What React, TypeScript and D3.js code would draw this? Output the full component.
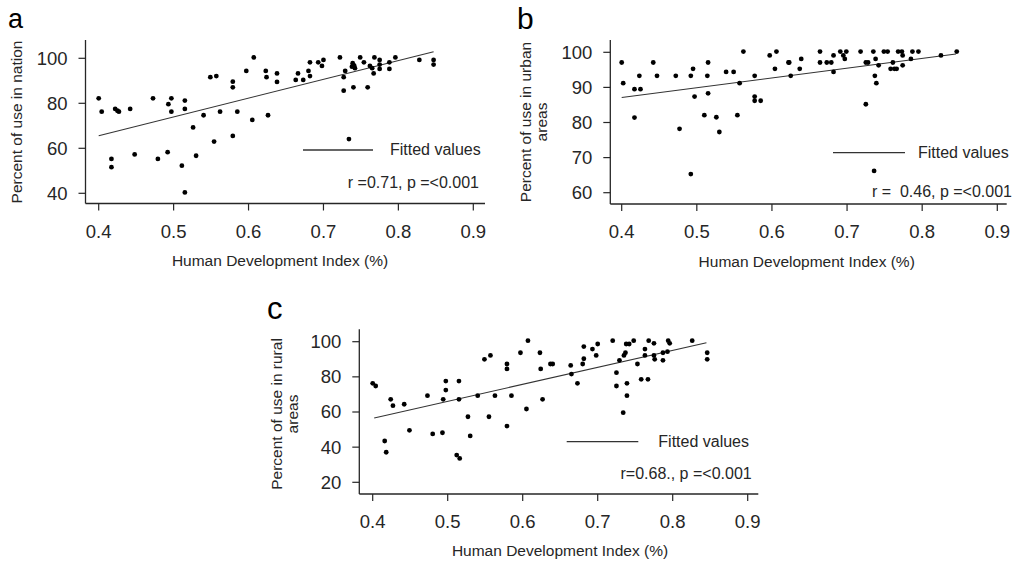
import React from 'react'
import * as d3 from 'd3'

// HDI (x) and percent of use (y)
const nationPoints: [number, number][] = [
  [0.4, 82.2], [0.404, 76.3], [0.417, 55.3], [0.417, 51.6], [0.422, 77.5], [0.425, 76.7],
  [0.427, 76.3], [0.442, 77.5], [0.448, 57.3], [0.4725, 82.2], [0.479, 55.3], [0.492, 58.3],
  [0.493, 79.6], [0.497, 82.2], [0.497, 76.3], [0.511, 52.3], [0.515, 81.2], [0.515, 77.5],
  [0.515, 40.4], [0.526, 69.3], [0.53, 56.7], [0.54, 74.7], [0.549, 91.6], [0.554, 63.0],
  [0.557, 92.1], [0.562, 76.3], [0.579, 89.6], [0.579, 87.1], [0.579, 65.5], [0.585, 76.3],
  [0.597, 94.4], [0.605, 72.6], [0.607, 100.4], [0.623, 94.4], [0.624, 91.6], [0.626, 74.7],
  [0.638, 93.3], [0.638, 89.5], [0.663, 90.4], [0.666, 93.3], [0.673, 90.4], [0.68, 94.4],
  [0.682, 98.2], [0.682, 92.1], [0.693, 98.2], [0.698, 96.6], [0.7, 99.3], [0.722, 100.4],
  [0.727, 91.6], [0.727, 85.6], [0.729, 94.4], [0.734, 64.1], [0.738, 96.3], [0.739, 97.8],
  [0.74, 87.1], [0.741, 96.7], [0.742, 95.6], [0.749, 100.4], [0.754, 98.2], [0.759, 87.1],
  [0.762, 96.6], [0.765, 95.6], [0.767, 93.3], [0.768, 100.4], [0.775, 99.3], [0.775, 97.2],
  [0.775, 95.3], [0.788, 98.2], [0.788, 95.3], [0.796, 100.4], [0.828, 99.3], [0.847, 99.3],
  [0.847, 97.2],
]

const urbanPoints: [number, number][] = [
  [0.4, 97.1], [0.402, 91.2], [0.417, 89.5], [0.417, 81.4], [0.4235, 93.3], [0.425, 89.5],
  [0.442, 97.1], [0.447, 93.3], [0.472, 93.3], [0.477, 78.2], [0.492, 93.3], [0.492, 65.3],
  [0.495, 95.3], [0.497, 87.4], [0.51, 82.1], [0.514, 93.3], [0.515, 97.1], [0.515, 88.3],
  [0.526, 81.5], [0.53, 77.3], [0.539, 94.4], [0.549, 94.4], [0.554, 82.1], [0.557, 91.2],
  [0.562, 100.2], [0.577, 93.3], [0.577, 87.4], [0.577, 86.2], [0.585, 86.2], [0.597, 99.1],
  [0.604, 95.3], [0.606, 100.2], [0.622, 97.1], [0.623, 97.1], [0.625, 93.3], [0.637, 95.3],
  [0.639, 98.1], [0.664, 97.1], [0.664, 100.2], [0.673, 97.1], [0.679, 97.1], [0.682, 94.4],
  [0.682, 99.1], [0.691, 100.2], [0.695, 99.1], [0.697, 98.1], [0.699, 100.2], [0.718, 100.2],
  [0.725, 85.2], [0.725, 97.1], [0.728, 97.1], [0.735, 100.2], [0.736, 66.2], [0.737, 93.3],
  [0.738, 98.1], [0.739, 91.2], [0.742, 96.3], [0.749, 100.2], [0.754, 100.2], [0.761, 97.1],
  [0.758, 95.3], [0.763, 95.3], [0.766, 95.3], [0.768, 100.2], [0.773, 100.2], [0.774, 99.1],
  [0.774, 96.3], [0.785, 98.1], [0.787, 100.2], [0.795, 100.2], [0.825, 99.1], [0.846, 100.2],
]

const ruralPoints: [number, number][] = [
  [0.4, 76.3], [0.404, 74.8], [0.416, 43.5], [0.418, 37.1], [0.424, 67.2], [0.427, 63.6],
  [0.442, 64.4], [0.449, 49.6], [0.473, 69.3], [0.48, 47.5], [0.493, 48.2], [0.494, 67.2],
  [0.4975, 72.5], [0.4975, 77.6], [0.515, 77.6], [0.515, 67.2], [0.512, 35.5], [0.516, 33.6],
  [0.527, 57.3], [0.53, 46.4], [0.54, 69.3], [0.549, 90.0], [0.555, 57.3], [0.557, 92.2],
  [0.563, 69.3], [0.579, 87.3], [0.579, 84.5], [0.579, 52.0], [0.585, 69.3], [0.597, 93.7],
  [0.605, 61.7], [0.607, 100.6], [0.623, 93.7], [0.624, 84.5], [0.6265, 67.2], [0.637, 87.3],
  [0.64, 87.3], [0.664, 86.5], [0.665, 81.6], [0.673, 76.3], [0.68, 87.3], [0.6815, 97.2],
  [0.6815, 90.3], [0.693, 95.8], [0.698, 92.2], [0.7, 98.7], [0.72, 100.6], [0.725, 82.4],
  [0.725, 74.8], [0.729, 89.4], [0.734, 59.6], [0.735, 92.2], [0.737, 93.7], [0.738, 98.7],
  [0.739, 76.3], [0.739, 69.3], [0.742, 98.7], [0.748, 100.6], [0.753, 87.3], [0.758, 78.6],
  [0.763, 92.2], [0.763, 95.8], [0.767, 78.6], [0.768, 100.6], [0.775, 99.1], [0.775, 92.2],
  [0.776, 90.0], [0.787, 93.7], [0.787, 89.4], [0.793, 94.3], [0.794, 100.6], [0.796, 99.1],
  [0.826, 100.6], [0.846, 93.7], [0.846, 90.0],
]

// fitted line end points
const nationFit: [number, number][] = [[0.4, 65.6], [0.847, 102.9]]
const urbanFit: [number, number][] = [[0.4, 87.1], [0.845, 99.5]]
const ruralFit: [number, number][] = [[0.402, 56.6], [0.845, 99.4]]

const xTicks = [0.4, 0.5, 0.6, 0.7, 0.8, 0.9]
const nationTicks = [40, 60, 80, 100]
const urbanTicks = [60, 70, 80, 90, 100]
const ruralTicks = [20, 40, 60, 80, 100]

const FONT = '"Liberation Sans", Arial, sans-serif'
const INK = '#262626'

const panels = [
  {
    label: 'a', labelPos: [8, 28, 27], points: nationPoints, fit: nationFit, yTicks: nationTicks,
    yTitle: ['Percent of use in nation'], yTitleX: [16.5], yTitleY: 122,
    stat: 'r =0.71, p =<0.001',
    axisX: 85.5, top: 40, bottom: 203.5, right: 485,
    xRange: [98.7, 473.3], yMap: [[40, 193.3], [100, 58.3]],
    legend: { x0: 303, x1: 373, y: 150, tx: 390, ty: 155, sx: 479, sy: 188 },
    xTitle: [280, 266],
  },
  {
    label: 'b', labelPos: [517, 29, 30], points: urbanPoints, fit: urbanFit, yTicks: urbanTicks,
    yTitle: ['Percent of use in urban', 'areas'], yTitleX: [525.5, 542], yTitleY: 122,
    stat: 'r =  0.46, p =<0.001',
    axisX: 610.3, top: 40, bottom: 204, right: 1006.7,
    xRange: [621.7, 997.3], yMap: [[60, 192.7], [100, 52.3]],
    legend: { x0: 833, x1: 905, y: 152.7, tx: 918, ty: 157.5, sx: 1012, sy: 197 },
    xTitle: [806.7, 267],
  },
  {
    label: 'c', labelPos: [267, 319, 31], points: ruralPoints, fit: ruralFit, yTicks: ruralTicks,
    yTitle: ['Percent of use in rural', 'areas'], yTitleX: [276.5, 293], yTitleY: 414,
    stat: 'r=0.68., p =<0.001',
    axisX: 359.3, top: 329.3, bottom: 494, right: 758.3,
    xRange: [372.7, 747.7], yMap: [[20, 482.3], [100, 341.7]],
    legend: { x0: 566.7, x1: 638.3, y: 441.7, tx: 658.3, ty: 447, sx: 751.7, sy: 479.3 },
    xTitle: [560, 556],
  },
]

function Panel({ p }: { p: typeof panels[number] }) {
  const x = d3.scaleLinear().domain([0.4, 0.9]).range(p.xRange)
  const y = d3.scaleLinear()
    .domain([p.yMap[0][0], p.yMap[1][0]])
    .range([p.yMap[0][1], p.yMap[1][1]])
  const line = d3.line<[number, number]>().x(d => x(d[0])).y(d => y(d[1]))

  return (
    <g fontFamily={FONT} fill={INK}>
      <text x={p.labelPos[0]} y={p.labelPos[1]} fontSize={p.labelPos[2]} fill="#000">{p.label}</text>

      {/* axes */}
      <line x1={p.axisX} x2={p.axisX} y1={p.top} y2={p.bottom} stroke={INK} strokeWidth={1.3} />
      <line x1={p.axisX} x2={p.right} y1={p.bottom} y2={p.bottom} stroke={INK} strokeWidth={1.3} />
      {p.yTicks.map(t => (
        <g key={'y' + t}>
          <line x1={p.axisX - 7} x2={p.axisX} y1={y(t)} y2={y(t)} stroke={INK} strokeWidth={1.2} />
          <text x={p.axisX - 18} y={y(t)} dy="0.35em" textAnchor="end" fontSize={18.5}>{t}</text>
        </g>
      ))}
      {xTicks.map(t => (
        <g key={'x' + t}>
          <line x1={x(t)} x2={x(t)} y1={p.bottom} y2={p.bottom + 7} stroke={INK} strokeWidth={1.2} />
          <text x={x(t)} y={p.bottom + 34} textAnchor="middle" fontSize={18.5}>{t.toFixed(1)}</text>
        </g>
      ))}

      {/* titles */}
      <text x={p.xTitle[0]} y={p.xTitle[1]} textAnchor="middle" fontSize={15.5}>Human Development Index (%)</text>
      {p.yTitle.map((s, i) => (
        <text key={s} transform={`translate(${p.yTitleX[i]},${p.yTitleY}) rotate(-90)`}
          textAnchor="middle" dy="0.35em" fontSize={15.5}>{s}</text>
      ))}

      {/* fitted line */}
      <path d={line(p.fit) || ''} fill="none" stroke="#333" strokeWidth={1.1} />

      {/* points */}
      {p.points.map((d, i) => (
        <circle key={i} cx={x(d[0])} cy={y(d[1])} r={2.4} fill="#000" />
      ))}

      {/* legend and statistic */}
      <line x1={p.legend.x0} x2={p.legend.x1} y1={p.legend.y} y2={p.legend.y} stroke="#333" strokeWidth={1.3} />
      <text x={p.legend.tx} y={p.legend.ty} fontSize={16}>Fitted values</text>
      <text x={p.legend.sx} y={p.legend.sy} textAnchor="end" fontSize={16} style={{ whiteSpace: 'pre' }}>{p.stat}</text>
    </g>
  )
}

export default function App() {
  return (
    <svg width={1020} height={562} viewBox="0 0 1020 562"
      style={{ position: 'absolute', left: 0, top: 0, background: '#fff' }}>
      <rect width={1020} height={562} fill="#fff" />
      {panels.map(p => <Panel key={p.label} p={p} />)}
    </svg>
  )
}
